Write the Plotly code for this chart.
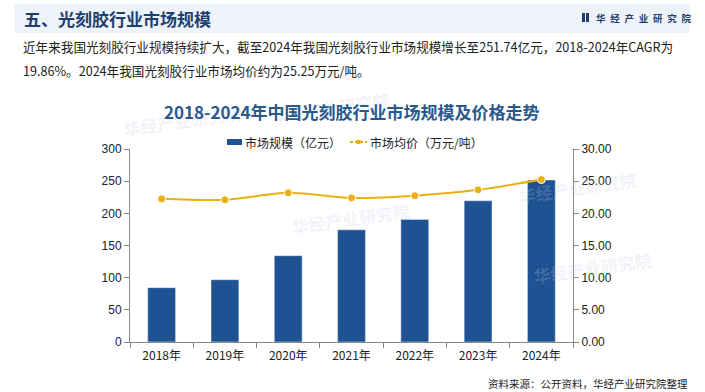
import plotly.graph_objects as go

years = ["2018年", "2019年", "2020年", "2021年", "2022年", "2023年", "2024年"]
market_size = [84.5, 96.8, 134.2, 174.3, 190.6, 219.5, 251.74]
avg_price = [22.25, 22.10, 23.20, 22.40, 22.75, 23.65, 25.25]
left_ticks = [0, 50, 100, 150, 200, 250, 300]
right_ticks = [0, 5, 10, 15, 20, 25, 30]
bar_name = "市场规模（亿元）"
line_name = "市场均价（万元/吨）"

W, H = 705, 392
L, R, T, B = 130, 132, 149, 50
PW, PH = W - L - R, H - T - B
BAR_COLOR = "#1F5293"
LINE_COLOR = "#E8B010"

def px(x):
    return (x - L) / PW

def py(y):
    return (H - B - y) / PH

fig = go.Figure()

fig.add_trace(go.Bar(
    x=years, y=market_size, name=bar_name,
    marker=dict(color=BAR_COLOR), yaxis="y", width=0.44,
))
fig.add_trace(go.Scatter(
    x=years, y=avg_price, name=line_name, yaxis="y2",
    mode="lines+markers", line=dict(color=LINE_COLOR, width=2, shape="spline", smoothing=0.8),
    marker=dict(color=LINE_COLOR, size=8, line=dict(color="white", width=1)),
))

axis_font = dict(family="Liberation Sans, Arial, sans-serif", size=12, color="#222")
fig.update_layout(
    width=W, height=H,
    margin=dict(l=L, r=R, t=T, b=B),
    paper_bgcolor="white", plot_bgcolor="rgba(0,0,0,0)",
    showlegend=False,
    xaxis=dict(showline=True, linecolor="#888", linewidth=1, ticks="outside", ticklen=5,
               tickcolor="#888", tickson="boundaries", ticklabelstandoff=3,
               tickfont=dict(family="Noto Sans CJK SC", size=12, color="#222"),
               showgrid=False, range=[-0.5, 6.5]),
    yaxis=dict(range=[0, 300], tickvals=left_ticks, showline=True, linecolor="#888", linewidth=1,
               ticks="outside", ticklen=5, tickcolor="#888", showgrid=False, zeroline=False,
               tickfont=axis_font),
    yaxis2=dict(range=[0, 30], tickvals=right_ticks, overlaying="y", side="right",
                tickformat=".2f", showline=True, linecolor="#888", linewidth=1,
                ticks="outside", ticklen=5, tickcolor="#888", showgrid=False, zeroline=False,
                tickfont=axis_font),
    font=dict(family="Noto Sans CJK SC"),
)

# header band
fig.add_shape(type="rect", xref="paper", yref="paper", x0=px(14), x1=px(690), y0=py(33), y1=py(4),
              fillcolor="#EEF3FA", line=dict(width=0), layer="below")

# faint watermarks
for wx, wy in [(120, 98), (350, 218), (640, 165), (330, 85), (655, 290)]:
    fig.add_annotation(text="<b>华经产业研究院</b>", xref="paper", yref="paper", x=px(wx), y=py(wy),
                       showarrow=False, textangle=-8,
                       font=dict(family="Noto Sans CJK SC", size=17, color="rgba(190,200,220,0.22)"))

fig.add_annotation(text="<b>五、光刻胶行业市场规模</b>", xref="paper", yref="paper",
                   x=px(22), y=py(18), xanchor="left", yanchor="middle", showarrow=False,
                   font=dict(family="Noto Sans CJK SC", size=17, color="#1E3F70"))
# logo
fig.add_shape(type="rect", xref="paper", yref="paper", x0=px(582), x1=px(585), y0=py(22), y1=py(13),
              fillcolor="#1E3F70", line=dict(width=0))
fig.add_shape(type="rect", xref="paper", yref="paper", x0=px(586), x1=px(589), y0=py(22), y1=py(13),
              fillcolor="#1E3F70", line=dict(width=0))
fig.add_annotation(text="<b>" + "\u2002".join("华经产业研究院") + "</b>", xref="paper", yref="paper",
                   x=px(594), y=py(17.5), xanchor="left", yanchor="middle", showarrow=False,
                   font=dict(family="Noto Sans CJK SC", size=9.5, color="#1E3F70"))
# paragraph
fig.add_annotation(text="近年来我国光刻胶行业规模持续扩大，截至2024年我国光刻胶行业市场规模增长至251.74亿元，2018-2024年CAGR为",
                   xref="paper", yref="paper", x=px(21), y=py(47), xanchor="left", yanchor="middle",
                   showarrow=False, font=dict(family="Noto Sans CJK SC", size=12.6, color="#222"))
fig.add_annotation(text="19.86%。2024年我国光刻胶行业市场均价约为25.25万元/吨。",
                   xref="paper", yref="paper", x=px(21), y=py(70), xanchor="left", yanchor="middle",
                   showarrow=False, font=dict(family="Noto Sans CJK SC", size=12.6, color="#222"))
# chart title
fig.add_annotation(text="<b>2018-2024年中国光刻胶行业市场规模及价格走势</b>",
                   xref="paper", yref="paper", x=px(352), y=py(111), xanchor="center", yanchor="middle",
                   showarrow=False, font=dict(family="Noto Sans CJK SC", size=17, color="#2A5A8C"))

# custom legend
LY = 142
fig.add_shape(type="rect", xref="paper", yref="paper", x0=px(227), x1=px(242), y0=py(LY + 3), y1=py(LY - 3),
              fillcolor=BAR_COLOR, line=dict(width=0))
fig.add_annotation(text=bar_name, xref="paper", yref="paper", x=px(243), y=py(LY), xanchor="left",
                   yanchor="middle", showarrow=False, font=dict(family="Noto Sans CJK SC", size=12, color="#222"))
fig.add_shape(type="line", xref="paper", yref="paper", x0=px(350), x1=px(367), y0=py(LY), y1=py(LY),
              line=dict(color=LINE_COLOR, width=2, dash="3px,2px"))
fig.add_shape(type="rect", xref="paper", yref="paper", x0=px(356.5), x1=px(360.5), y0=py(LY + 2), y1=py(LY - 2),
              fillcolor=LINE_COLOR, line=dict(width=0))
fig.add_annotation(text=line_name, xref="paper", yref="paper", x=px(368), y=py(LY), xanchor="left",
                   yanchor="middle", showarrow=False, font=dict(family="Noto Sans CJK SC", size=12, color="#222"))

# footer
fig.add_annotation(text="资料来源：公开资料，华经产业研究院整理",
                   xref="paper", yref="paper", x=px(690), y=py(383), xanchor="right", yanchor="middle",
                   showarrow=False, font=dict(family="Noto Sans CJK SC", size=10.5, color="#222"))

fig.write_html("out.html", config={"displayModeBar": False},
               post_script="document.body.style.margin='0';document.body.style.overflow='hidden';")
